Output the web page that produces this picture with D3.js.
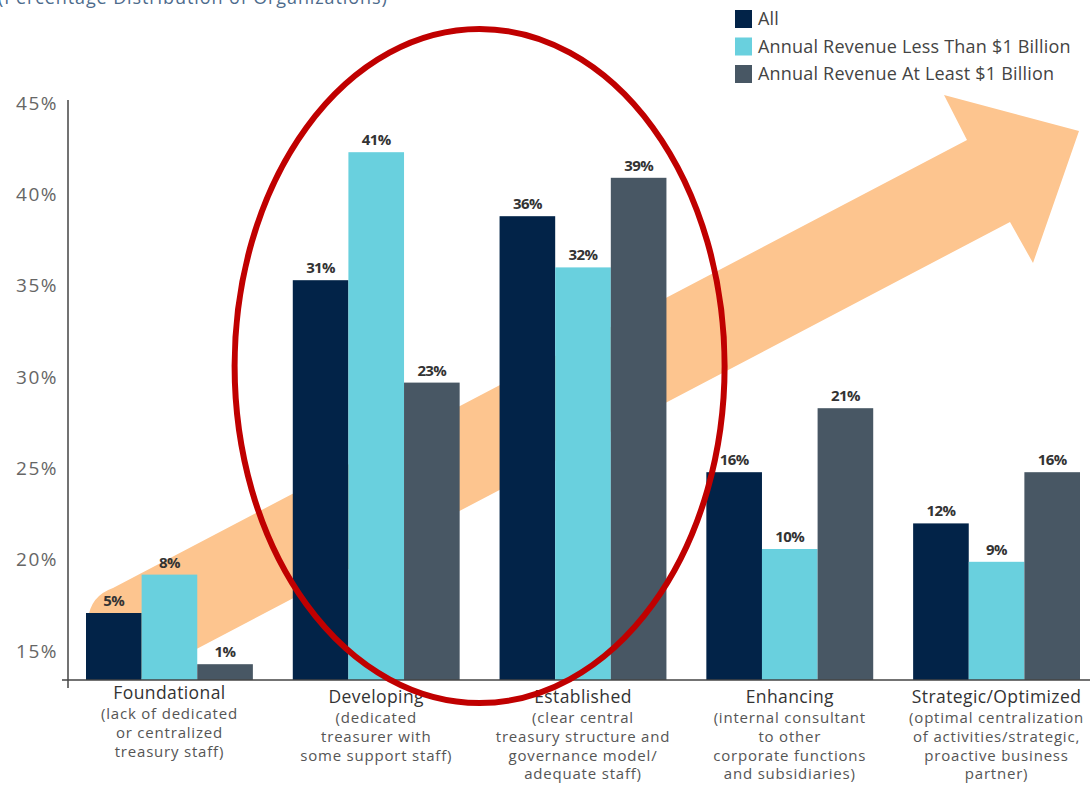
<!DOCTYPE html>
<html>
<head>
<meta charset="utf-8">
<script src="https://cdn.jsdelivr.net/npm/d3@7"></script>
<style>
  body{margin:0;background:#fff;}
  svg text{font-family:"Open Sans",sans-serif;}
</style>
</head>
<body>
<svg id="chart" width="1090" height="785"></svg>
<script>
// data
var categories = ["Foundational","Developing","Established","Enhancing","Strategic/Optimized"];
var subLabels = [
  ["(lack of dedicated","or centralized","treasury staff)"],
  ["(dedicated","treasurer with","some support staff)"],
  ["(clear central","treasury structure and","governance model/","adequate staff)"],
  ["(internal consultant","to other","corporate functions","and subsidiaries)"],
  ["(optimal centralization","of activities/strategic,","proactive business","partner)"]
];
var seriesNames = ["All","Annual Revenue Less Than $1 Billion","Annual Revenue At Least $1 Billion"];
var allOrgs   = [5, 31, 36, 16, 12];
var lessThan1B = [8, 41, 32, 10, 9];
var atLeast1B  = [1, 23, 39, 21, 16];
var yTicks = [15, 20, 25, 30, 35, 40, 45];
var colors = ["#022348","#69d0de","#485764"];

var svg = d3.select("#chart");
var baseline = 680;

var x0 = d3.scaleBand().domain(categories).range([86,1080]).paddingInner(0.193).paddingOuter(0);
var x1 = d3.scaleBand().domain(d3.range(3)).range([0,x0.bandwidth()]);
// bar heights follow the printed values
var yv = d3.scaleLinear().domain([0,45]).range([677,101]);
// the printed axis
var ya = d3.scaleLinear().domain([15,45]).range([651,103]);

// title (cut off at the top, as in the source)
svg.append("text").attr("x",-2).attr("y",4)
   .attr("font-size",18).attr("letter-spacing","0.9").attr("fill","#4d6b8c")
   .text("(Percentage Distribution of Organizations)");

// orange arrow in the background
var clip = svg.append("clipPath").attr("id","abovebase");
clip.append("rect").attr("x",0).attr("y",0).attr("width",1090).attr("height",baseline);
svg.append("path")
   .attr("clip-path","url(#abovebase)")
   .attr("fill","#fdc58f")
   .attr("d","M88,706 L88,620 Q90,596 113,588 L967,140 L944,95 L1079,131 L1033,263 L1010,222 Z");

// bars
var rows = categories.map(function(c,i){ return [allOrgs[i],lessThan1B[i],atLeast1B[i]]; });
var groups = svg.selectAll("g.grp").data(rows).enter().append("g")
   .attr("class","grp")
   .attr("transform",function(d,i){ return "translate("+x0(categories[i])+",0)"; });

groups.selectAll("rect").data(function(d){ return d; }).enter().append("rect")
   .attr("x",function(d,j){ return x1(j); })
   .attr("y",function(d){ return yv(d); })
   .attr("width",x1.bandwidth())
   .attr("height",function(d){ return baseline-yv(d); })
   .attr("fill",function(d,j){ return colors[j]; });

groups.selectAll("text.val").data(function(d){ return d; }).enter().append("text")
   .attr("class","val")
   .attr("x",function(d,j){ return x1(j)+x1.bandwidth()/2; })
   .attr("y",function(d){ return yv(d)-7; })
   .attr("text-anchor","middle")
   .attr("font-size",15).attr("font-weight",700).attr("letter-spacing","-0.6")
   .attr("fill","#333")
   .text(function(d){ return d+"%"; });

// axes
svg.append("line").attr("x1",68).attr("x2",68).attr("y1",100).attr("y2",688)
   .attr("stroke","#444").attr("stroke-width",1.5);
svg.append("line").attr("x1",62).attr("x2",1090).attr("y1",baseline).attr("y2",baseline)
   .attr("stroke","#444").attr("stroke-width",1.5);

svg.selectAll("text.ytick").data(yTicks).enter().append("text")
   .attr("class","ytick")
   .attr("x",58).attr("y",function(d){ return ya(d); })
   .attr("dy","0.35em")
   .attr("text-anchor","end")
   .attr("font-size",19).attr("letter-spacing","1.5").attr("fill","#666")
   .text(function(d){ return d+"%"; });

// category labels
var cl = svg.selectAll("g.cat").data(categories).enter().append("g")
   .attr("class","cat")
   .attr("transform",function(d,i){ return "translate("+(x0(d)+x0.bandwidth()/2)+","+(i==0 ? 699 : 703)+")"; });
cl.append("text").attr("text-anchor","middle")
   .attr("font-size",17.5).attr("letter-spacing","0.4").attr("fill","#333")
   .text(function(d){ return d; });
cl.each(function(d,i){
  d3.select(this).selectAll("text.sub").data(subLabels[i]).enter().append("text")
    .attr("class","sub")
    .attr("text-anchor","middle")
    .attr("y",function(s,k){ return 20+18.8*k; })
    .attr("font-size",15).attr("letter-spacing","0.8").attr("fill","#555")
    .text(function(s){ return s; });
});

// legend
var lg = svg.selectAll("g.leg").data(seriesNames).enter().append("g")
   .attr("class","leg")
   .attr("transform",function(d,i){ return "translate(735,"+(10+i*27.5)+")"; });
lg.append("rect").attr("width",17).attr("height",18)
   .attr("fill",function(d,i){ return colors[i]; });
lg.append("text").attr("x",23).attr("y",15)
   .attr("font-size",18).attr("letter-spacing","0.2").attr("fill","#444")
   .text(function(d){ return d; });

// red highlight ellipse
svg.append("ellipse")
   .attr("cx",(x0("Developing")+x0("Established")+x0.bandwidth())/2)
   .attr("cy",366).attr("rx",245).attr("ry",337)
   .attr("fill","none").attr("stroke","#c00000").attr("stroke-width",6);
</script>
</body>
</html>
